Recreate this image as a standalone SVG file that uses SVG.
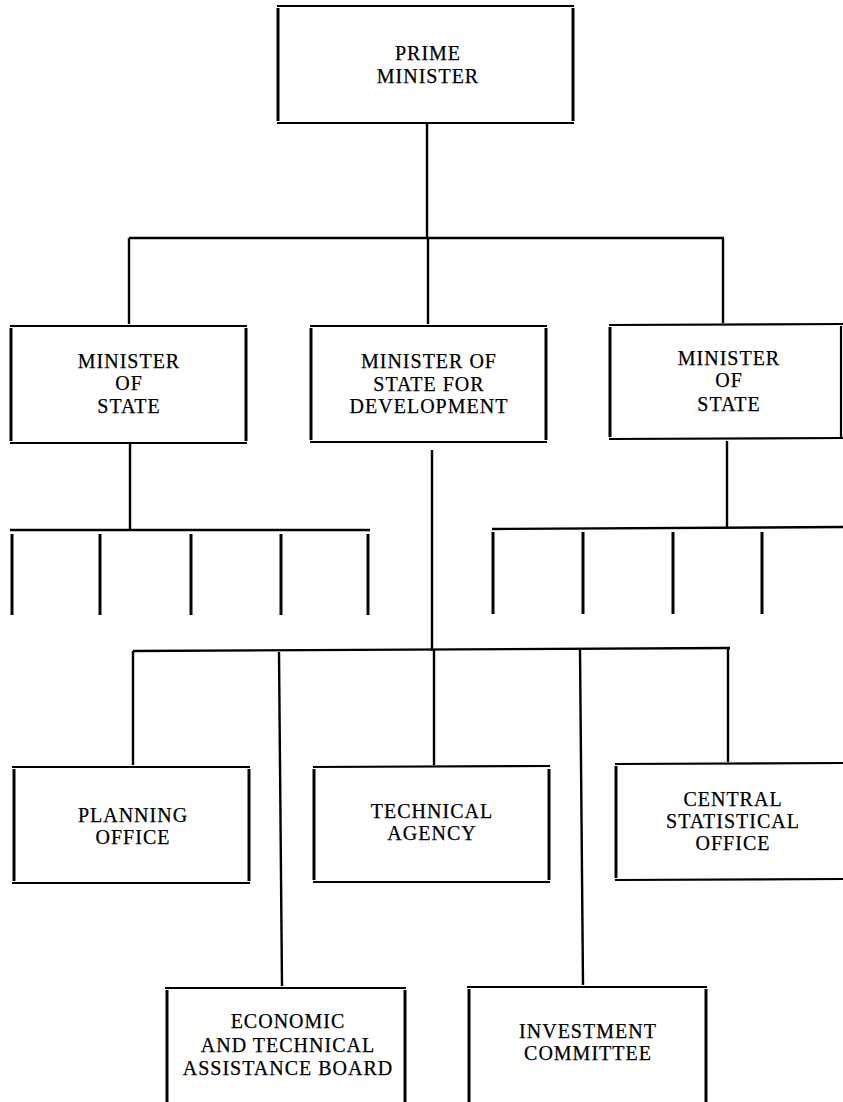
<svg xmlns="http://www.w3.org/2000/svg" width="843" height="1102" viewBox="0 0 843 1102">
<style>
.h{stroke:#000;stroke-width:2.2;fill:none}
.v{stroke:#000;stroke-width:3;fill:none}
.c{stroke:#000;stroke-width:2.4;fill:none}
.d{stroke:#000;stroke-width:3;fill:none}
text{font-family:"Liberation Serif","Times New Roman",serif;font-size:20px;letter-spacing:1px;text-anchor:middle;fill:#000;stroke:#000;stroke-width:0.25}
</style>
<rect width="843" height="1102" fill="#fff"/>
<g id="connectors">
<line class="c" x1="427" y1="124" x2="427" y2="238"/>
<line class="c" x1="129" y1="238" x2="724" y2="238"/>
<line class="c" x1="129" y1="238" x2="129" y2="324"/>
<line class="c" x1="428" y1="238" x2="428" y2="324"/>
<line class="c" x1="723" y1="238" x2="723" y2="323"/>
<line class="c" x1="130" y1="444" x2="130" y2="530"/>
<line class="c" x1="10" y1="530" x2="370" y2="530"/>
<line class="d" x1="12" y1="534" x2="12" y2="615"/>
<line class="d" x1="100" y1="534" x2="100" y2="615"/>
<line class="d" x1="191" y1="534" x2="191" y2="615"/>
<line class="d" x1="281" y1="534" x2="281" y2="615"/>
<line class="d" x1="368" y1="534" x2="368" y2="615"/>
<line class="c" x1="727" y1="441" x2="727" y2="528"/>
<line class="c" x1="492" y1="529" x2="843" y2="527"/>
<line class="d" x1="493" y1="532" x2="493" y2="614"/>
<line class="d" x1="583" y1="532" x2="583" y2="614"/>
<line class="d" x1="673" y1="532" x2="673" y2="614"/>
<line class="d" x1="762" y1="532" x2="762" y2="614"/>
<line class="c" x1="432" y1="450" x2="432" y2="651"/>
<line class="c" x1="133" y1="651" x2="730" y2="648"/>
<line class="c" x1="133" y1="651" x2="133" y2="765"/>
<line class="c" x1="279" y1="652" x2="282" y2="986"/>
<line class="c" x1="434" y1="650" x2="434" y2="765"/>
<line class="c" x1="580" y1="650" x2="583" y2="985"/>
<line class="c" x1="728" y1="648" x2="728" y2="762"/>
</g>
<g id="prime-minister">
<line class="h" x1="277" y1="6" x2="574" y2="6"/>
<line class="h" x1="277" y1="123" x2="574" y2="123"/>
<line class="v" x1="278" y1="8" x2="278" y2="121"/>
<line class="v" x1="573" y1="8" x2="573" y2="121"/>
<text x="428" y="60">PRIME</text>
<text x="428" y="83">MINISTER</text>
</g>
<g id="minister-of-state-left">
<line class="h" x1="10" y1="326" x2="247" y2="326"/>
<line class="h" x1="10" y1="443" x2="247" y2="443"/>
<line class="v" x1="11" y1="328" x2="11" y2="441"/>
<line class="v" x1="246" y1="328" x2="246" y2="441"/>
<text x="129" y="368">MINISTER</text>
<text x="129" y="390">OF</text>
<text x="129" y="413">STATE</text>
</g>
<g id="minister-of-state-development">
<line class="h" x1="310" y1="326" x2="547" y2="326"/>
<line class="h" x1="310" y1="442" x2="547" y2="442"/>
<line class="v" x1="311" y1="328" x2="311" y2="440"/>
<line class="v" x1="546" y1="328" x2="546" y2="440"/>
<text x="429" y="368">MINISTER OF</text>
<text x="429" y="391">STATE FOR</text>
<text x="429" y="413">DEVELOPMENT</text>
</g>
<g id="minister-of-state-right">
<line class="h" x1="609" y1="325" x2="843" y2="324"/>
<line class="h" x1="609" y1="439" x2="843" y2="438"/>
<line class="v" x1="610" y1="327" x2="610" y2="437"/>
<line class="h" x1="841" y1="326" x2="841" y2="437" stroke-width="1"/>
<text x="729" y="365">MINISTER</text>
<text x="729" y="387">OF</text>
<text x="729" y="411">STATE</text>
</g>
<g id="planning-office">
<line class="h" x1="12" y1="767" x2="250" y2="767"/>
<line class="h" x1="12" y1="883" x2="250" y2="883"/>
<line class="v" x1="14" y1="769" x2="14" y2="881"/>
<line class="v" x1="249" y1="769" x2="249" y2="881"/>
<text x="133" y="822">PLANNING</text>
<text x="133" y="844">OFFICE</text>
</g>
<g id="technical-agency">
<line class="h" x1="313" y1="767" x2="550" y2="766"/>
<line class="h" x1="313" y1="882" x2="550" y2="882"/>
<line class="v" x1="314" y1="769" x2="314" y2="880"/>
<line class="v" x1="549" y1="769" x2="549" y2="880"/>
<text x="432" y="818">TECHNICAL</text>
<text x="432" y="840">AGENCY</text>
</g>
<g id="central-statistical-office">
<line class="h" x1="615" y1="764" x2="843" y2="763"/>
<line class="h" x1="615" y1="880" x2="843" y2="879"/>
<line class="v" x1="616" y1="766" x2="616" y2="878"/>
<text x="733" y="806">CENTRAL</text>
<text x="733" y="828">STATISTICAL</text>
<text x="733" y="850">OFFICE</text>
</g>
<g id="economic-technical-assistance-board">
<line class="h" x1="165" y1="988" x2="406" y2="988"/>
<line class="v" x1="167" y1="990" x2="167" y2="1102"/>
<line class="v" x1="405" y1="990" x2="405" y2="1102"/>
<text x="288" y="1028">ECONOMIC</text>
<text x="288" y="1052">AND TECHNICAL</text>
<text x="288" y="1075">ASSISTANCE BOARD</text>
</g>
<g id="investment-committee">
<line class="h" x1="467" y1="987" x2="707" y2="987"/>
<line class="v" x1="469" y1="989" x2="469" y2="1102"/>
<line class="v" x1="706" y1="989" x2="706" y2="1102"/>
<text x="588" y="1038">INVESTMENT</text>
<text x="588" y="1060">COMMITTEE</text>
</g>
</svg>
